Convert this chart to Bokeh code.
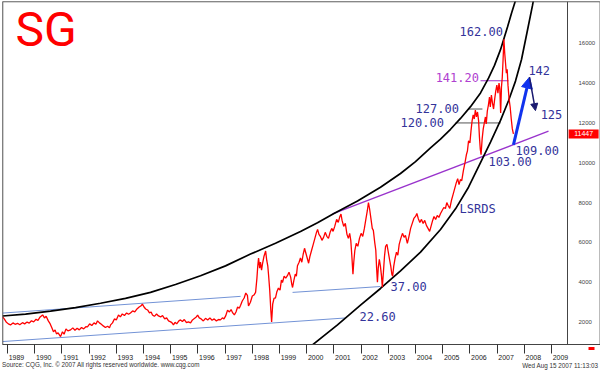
from bokeh.plotting import figure
from bokeh.layouts import column
from bokeh.models import (Range1d, LinearAxis, FixedTicker, Arrow, NormalHead, Span, Div,
                          ColumnDataSource, NumeralTickFormatter)
from bokeh.core.properties import value
from bokeh.embed import file_html
from bokeh.resources import INLINE

# ---------------- data ----------------
years = list(range(1989, 2010))
price_ticks = [2000, 4000, 6000, 8000, 10000, 12000, 14000, 16000]
last_price = 11447

price_points = [
    (1988.82, 2250), (1988.88, 2150), (1988.95, 2000), (1989.03, 1900), (1989.11, 1850),
    (1989.2, 1950), (1989.28, 1880), (1989.37, 1930), (1989.45, 1860), (1989.55, 1960),
    (1989.63, 1900), (1989.72, 1990), (1989.8, 1940), (1989.88, 2060), (1989.96, 2000),
    (1990.05, 2130), (1990.12, 2080), (1990.2, 2250), (1990.29, 2350), (1990.36, 2200),
    (1990.42, 2280), (1990.5, 2050), (1990.57, 1900), (1990.63, 1700), (1990.69, 1500),
    (1990.75, 1600), (1990.8, 1400), (1990.86, 1450), (1990.95, 1260), (1991.02, 1500),
    (1991.08, 1380), (1991.15, 1650), (1991.22, 1550), (1991.32, 1600), (1991.4, 1700),
    (1991.48, 1580), (1991.56, 1680), (1991.64, 1600), (1991.72, 1720), (1991.8, 1650),
    (1991.88, 1760), (1991.94, 1750), (1992.02, 1900), (1992.1, 1820), (1992.18, 1950),
    (1992.25, 1880), (1992.31, 2050), (1992.38, 1950), (1992.45, 1880), (1992.52, 1800),
    (1992.6, 1720), (1992.68, 1780), (1992.75, 1700), (1992.79, 1850), (1992.86, 1950),
    (1992.93, 2150), (1993.0, 2100), (1993.08, 2350), (1993.15, 2250), (1993.22, 2400),
    (1993.3, 2320), (1993.38, 2450), (1993.45, 2380), (1993.52, 2450), (1993.6, 2550),
    (1993.68, 2500), (1993.76, 2650), (1993.84, 2750), (1993.9, 2800), (1993.96, 2890),
    (1994.02, 2750), (1994.08, 2650), (1994.15, 2600), (1994.22, 2450), (1994.28, 2500),
    (1994.33, 2350), (1994.4, 2280), (1994.48, 2400), (1994.55, 2300), (1994.63, 2250),
    (1994.7, 2320), (1994.78, 2150), (1994.85, 2200), (1994.92, 2050), (1995.0, 2000),
    (1995.05, 1950), (1995.1, 1850), (1995.16, 1980), (1995.22, 1900), (1995.3, 2050),
    (1995.36, 2100), (1995.43, 2020), (1995.5, 2120), (1995.58, 1960), (1995.65, 2000),
    (1995.73, 1950), (1995.8, 2100), (1995.88, 2180), (1995.94, 2250), (1995.99, 2340),
    (1996.05, 2200), (1996.12, 2150), (1996.2, 2050), (1996.28, 2180), (1996.36, 2100),
    (1996.44, 2200), (1996.52, 2080), (1996.6, 2150), (1996.68, 2050), (1996.76, 2120),
    (1996.83, 2100), (1996.9, 2200), (1996.96, 2150), (1997.02, 2300), (1997.09, 2590),
    (1997.16, 2500), (1997.22, 2620), (1997.28, 2450), (1997.34, 2350), (1997.4, 2500),
    (1997.46, 2750), (1997.52, 2680), (1997.57, 2840), (1997.63, 3050), (1997.7, 3200),
    (1997.76, 3450), (1997.82, 3330), (1997.86, 2800), (1997.93, 2990), (1998.0, 3300),
    (1998.06, 3350), (1998.12, 3480), (1998.17, 4200), (1998.2, 4800), (1998.23, 5210),
    (1998.27, 4700), (1998.3, 5000), (1998.34, 4600), (1998.38, 4960), (1998.43, 5300),
    (1998.49, 5560), (1998.53, 5100), (1998.57, 4800), (1998.6, 4320), (1998.64, 3600),
    (1998.68, 2600), (1998.71, 2000), (1998.75, 2900), (1998.8, 3200), (1998.85, 3190),
    (1998.9, 3500), (1998.96, 3700), (1999.02, 3600), (1999.07, 4100), (1999.11, 3980),
    (1999.17, 4300), (1999.23, 4200), (1999.29, 4320), (1999.35, 4500), (1999.41, 4250),
    (1999.45, 3900), (1999.48, 3730), (1999.53, 4100), (1999.58, 4400), (1999.62, 4300),
    (1999.66, 4820), (1999.72, 5000), (1999.77, 5210), (1999.82, 5000), (1999.87, 5400),
    (1999.92, 5700), (1999.97, 5450), (2000.02, 5200), (2000.07, 4950), (2000.12, 5300),
    (2000.18, 5600), (2000.24, 5900), (2000.3, 6200), (2000.36, 6500), (2000.4, 6650),
    (2000.45, 6400), (2000.5, 6300), (2000.56, 6100), (2000.62, 6250), (2000.68, 6500),
    (2000.74, 6300), (2000.8, 6200), (2000.86, 6500), (2000.92, 6700), (2000.97, 6550),
    (2001.03, 6800), (2001.1, 7150), (2001.16, 7000), (2001.22, 7300), (2001.26, 7420),
    (2001.3, 7100), (2001.36, 6800), (2001.42, 6950), (2001.48, 6400), (2001.53, 6200),
    (2001.58, 6450), (2001.62, 6100), (2001.66, 5300), (2001.7, 4400), (2001.73, 5000),
    (2001.77, 5600), (2001.82, 5950), (2001.88, 5800), (2001.94, 6200), (2002.0, 6450),
    (2002.06, 6300), (2002.12, 6700), (2002.18, 7200), (2002.23, 7600), (2002.27, 8000),
    (2002.31, 7700), (2002.36, 7200), (2002.41, 6700), (2002.45, 6600), (2002.5, 6000),
    (2002.54, 5600), (2002.57, 4700), (2002.6, 4000), (2002.63, 4700), (2002.67, 5150),
    (2002.71, 4800), (2002.75, 4300), (2002.78, 3750), (2002.82, 4500), (2002.86, 5300),
    (2002.9, 5800), (2002.95, 5900), (2003.0, 5500), (2003.05, 5100), (2003.09, 4800),
    (2003.13, 4400), (2003.16, 4300), (2003.2, 4800), (2003.25, 5200), (2003.3, 5500),
    (2003.35, 5350), (2003.4, 5900), (2003.46, 6200), (2003.52, 6450), (2003.58, 6250),
    (2003.63, 6350), (2003.7, 5950), (2003.76, 6300), (2003.82, 6700), (2003.88, 6950),
    (2003.94, 7200), (2004.0, 7300), (2004.05, 7450), (2004.1, 7200), (2004.16, 7000),
    (2004.22, 7150), (2004.28, 6950), (2004.34, 7100), (2004.4, 6850), (2004.46, 6700),
    (2004.52, 6550), (2004.57, 6800), (2004.63, 7100), (2004.68, 7300), (2004.74, 7150),
    (2004.8, 7350), (2004.86, 7250), (2004.92, 7450), (2004.98, 7600), (2005.04, 7750),
    (2005.1, 7700), (2005.15, 8000), (2005.2, 7850), (2005.26, 7700), (2005.32, 8100),
    (2005.38, 8400), (2005.44, 8700), (2005.5, 9000), (2005.55, 9200), (2005.6, 8900),
    (2005.65, 9150), (2005.7, 9100), (2005.76, 9600), (2005.82, 10000), (2005.87, 10400),
    (2005.91, 10600), (2005.95, 11100), (2006.0, 11000), (2006.04, 11600), (2006.08, 12100),
    (2006.12, 12400), (2006.16, 12200), (2006.2, 12650), (2006.24, 12300), (2006.28, 12550),
    (2006.32, 12100), (2006.35, 11300), (2006.38, 10700), (2006.41, 10400), (2006.45, 11200),
    (2006.49, 11700), (2006.53, 12000), (2006.57, 12300), (2006.6, 11950), (2006.64, 12600),
    (2006.68, 12900), (2006.72, 13300), (2006.75, 12800), (2006.79, 13400), (2006.83, 13000),
    (2006.87, 12700), (2006.91, 13200), (2006.95, 13600), (2006.99, 13900), (2007.03, 13500),
    (2007.07, 14000), (2007.1, 13700), (2007.13, 12500), (2007.16, 13800), (2007.19, 14300),
    (2007.22, 15200), (2007.25, 16200), (2007.28, 15500), (2007.31, 15000), (2007.34, 14500),
    (2007.37, 14700), (2007.4, 13900), (2007.44, 13200), (2007.48, 12800), (2007.52, 12200),
    (2007.56, 11700), (2007.6, last_price),
]
price_t = [a for a, b in price_points]
price_v = [b for a, b in price_points]

# hand-drawn arcs
upper_arc_t = [1988.816, 1989.662, 1990.581, 1991.500, 1992.419, 1993.338, 1994.257, 1995.176,
               1996.096, 1997.015, 1997.934, 1998.853, 1999.772, 2000.397, 2000.985, 2001.868,
               2002.713, 2003.449, 2004.000, 2004.551, 2004.919, 2005.287, 2005.654, 2006.022,
               2006.390, 2006.684, 2006.904, 2007.125, 2007.382, 2007.529, 2007.676, 2007.824]
upper_arc_v = [2296, 2395, 2543, 2716, 2939, 3186, 3482, 3877,
               4322, 4816, 5409, 5952, 6545, 6989, 7434, 8076,
               8768, 9459, 10052, 10744, 11188, 11682, 12226, 12819,
               13510, 14251, 14893, 15684, 16820, 17512, 18154, 18747]
lower_arc_t = [2000.140, 2001.132, 2001.978, 2002.713, 2003.449, 2004.184, 2004.919, 2005.471,
               2005.949, 2006.390, 2006.757, 2007.125, 2007.419, 2007.676, 2007.897, 2008.118,
               2008.301, 2008.412]
lower_arc_v = [765, 1852, 2840, 3680, 4569, 5507, 6644, 7681,
               8768, 10003, 11040, 12127, 13115, 14103, 15190, 16672,
               17907, 18747]

# trend lines
purple_t = [2000.95, 2008.89]
purple_v = [7434, 11584]
channel_top_t = [1988.82, 1997.57]
channel_top_v = [2444, 3284]
channel_low_t = [1988.82, 2001.43]
channel_low_v = [1012, 2198]
support_t = [1999.48, 2002.71]
support_v = [3483, 3778]

# horizontal levels
level_v = [12700, 12000, 14120]
level_t0 = [2005.95, 2005.47, 2006.39]
level_t1 = [2006.46, 2007.13, 2007.42]
level_color = ["#555555", "#555555", "#a030c8"]

# projection arrows
up_arrow = (2007.60, 10900, 2008.19, 14300)
down_arrow = (2008.19, 14300, 2008.41, 12620)

# annotations
ann_text = ["162.00", "141.20", "127.00", "120.00", "109.00", "103.00", "142", "125",
            "LSRDS", "37.00", "22.60"]
ann_t = [2005.62, 2004.74, 2004.00, 2003.45, 2007.68, 2006.68, 2008.15, 2008.60,
         2005.62, 2003.08, 2001.94]
ann_v = [16200, 14120, 12700, 12000, 10900, 10300, 14200, 12500, 7680, 3700, 2260]
ann_dy = [-8, -3, -1, 0, 6, 5, -9, 2, 0, -2, 0]
ann_color = ["#33339a", "#b040d0", "#33339a", "#33339a", "#33339a", "#33339a", "#33339a",
             "#33339a", "#33339a", "#33339a", "#33339a"]

title_t, title_v = 1989.29, 16672
chart_start, chart_end = 1988.816, 2009.588   # edges of the price pane
scale_end = 2010.801                           # right edge of the scale strip
price_top, price_bottom = 18104, 864
tag_t = 2010.18                                # centre of the price tag in the scale strip
source_text = "Source: CQG, Inc. \u00a9 2007 All rights reserved worldwide. www.cqg.com"
stamp_text = "Wed Aug 15 2007 11:13:03"

# ---------------- figure ----------------
p = figure(width=600, height=362, output_backend="svg", toolbar_location=None,
           x_range=Range1d(chart_start, scale_end), y_range=Range1d(price_bottom, price_top),
           x_axis_location=None, y_axis_location=None,
           min_border_left=2, min_border_right=0, min_border_top=1, min_border_bottom=12)
p.xgrid.visible = False
p.ygrid.visible = False
p.outline_line_color = "#bbbbbb"
p.background_fill_color = "white"
p.border_fill_color = "white"

xaxis = LinearAxis(ticker=FixedTicker(ticks=[y + 0.33 for y in years], minor_ticks=years),
                   formatter=NumeralTickFormatter(format="0"))
xaxis.major_tick_out = 0
xaxis.major_tick_in = 0
xaxis.minor_tick_out = 9
xaxis.minor_tick_in = 0
xaxis.minor_tick_line_color = "#333333"
xaxis.axis_line_color = "#444444"
xaxis.major_label_standoff = 1
xaxis.major_label_text_font = "Liberation Sans"
xaxis.major_label_text_font_size = "7px"
xaxis.major_label_text_color = "#222222"
p.add_layout(xaxis, "below")

yaxis = LinearAxis(ticker=FixedTicker(ticks=price_ticks),
                   formatter=NumeralTickFormatter(format="0"))
yaxis.major_tick_out = 0
yaxis.major_tick_in = 0
yaxis.minor_tick_out = 0
yaxis.axis_line_color = None
yaxis.major_label_standoff = -22
yaxis.major_label_text_font = "Liberation Sans"
yaxis.major_label_text_font_size = "6px"
yaxis.major_label_text_color = "#444444"
p.add_layout(yaxis, "right")

# pane borders
p.add_layout(Span(location=chart_end, dimension="height", line_color="#444444", line_width=1))
p.add_layout(Span(location=chart_start, dimension="height", line_color="#444444", line_width=1.5))
p.add_layout(Span(location=price_top, dimension="width", line_color="#555555", line_width=1.5))

# trend lines
p.line(channel_top_t, channel_top_v, line_color="#7393d6", line_width=1)
p.line(channel_low_t, channel_low_v, line_color="#7393d6", line_width=1)
p.line(support_t, support_v, line_color="#7393d6", line_width=1)
p.line(purple_t, purple_v, line_color="#9933cc", line_width=1.3)
p.segment(x0=level_t0, y0=level_v, x1=level_t1, y1=level_v, line_color=level_color, line_width=1)

# arcs
p.line(upper_arc_t, upper_arc_v, line_color="black", line_width=1.7)
p.line(lower_arc_t, lower_arc_v, line_color="black", line_width=1.7)

# price
p.line(price_t, price_v, line_color="#ff0000", line_width=1.3)

# arrows
p.add_layout(Arrow(end=NormalHead(size=11, fill_color="#1133ee", line_color="#1133ee"),
                   x_start=up_arrow[0], y_start=up_arrow[1], x_end=up_arrow[2], y_end=up_arrow[3],
                   line_color="#1133ee", line_width=3))
p.add_layout(Arrow(end=NormalHead(size=7, fill_color="#1a1a70", line_color="#1a1a70"),
                   x_start=down_arrow[0], y_start=down_arrow[1], x_end=down_arrow[2], y_end=down_arrow[3],
                   line_color="#1a1a70", line_width=1.5))

src = ColumnDataSource(dict(x=ann_t, y=ann_v, text=ann_text, color=ann_color, dy=ann_dy))
p.text(x="x", y="y", text="text", text_color="color", y_offset="dy", source=src,
       text_font=value("DejaVu Sans Mono"), text_font_size="12px",
       text_baseline="middle", text_align="left")

# title
p.text(x=[title_t], y=[title_v], text=["SG"], text_color="#ff0000",
       text_font=value("Roboto"), text_font_size="48px",
       text_baseline="middle", text_align="left")

# last-price tag in the scale strip
p.rect(x=[tag_t], y=[last_price], width=30, height=9, width_units="screen",
       height_units="screen", fill_color="#ff0000", line_color=None)
p.text(x=[tag_t], y=[last_price], text=[str(last_price)], text_color="white",
       text_font=value("Liberation Sans"), text_font_size="7px",
       text_baseline="middle", text_align="center")

# small red arrow under the scale
p.add_layout(Arrow(end=NormalHead(size=6, fill_color="#ff0000", line_color="#ff0000"),
                   x_start=2010.73, y_start=666, x_end=2010.36, y_end=666,
                   line_color="#ff0000", line_width=3))

footer = Div(text=(
    '<div style="position:relative;width:600px;height:12px;font-family:\'Liberation Sans\';'
    'font-size:6.3px;line-height:7px;color:#333333;white-space:nowrap;">'
    '<span style="position:absolute;left:2px;top:3px;">' + source_text + '</span>'
    '<span style="position:absolute;right:2px;top:4px;">' + stamp_text + '</span></div>'),
    width=600, height=12, margin=(-4, 0, 0, 0))

layout = column(p, footer, spacing=0, margin=(0, 0, 0, 0))
open("out.html", "w").write(file_html(layout, INLINE))
